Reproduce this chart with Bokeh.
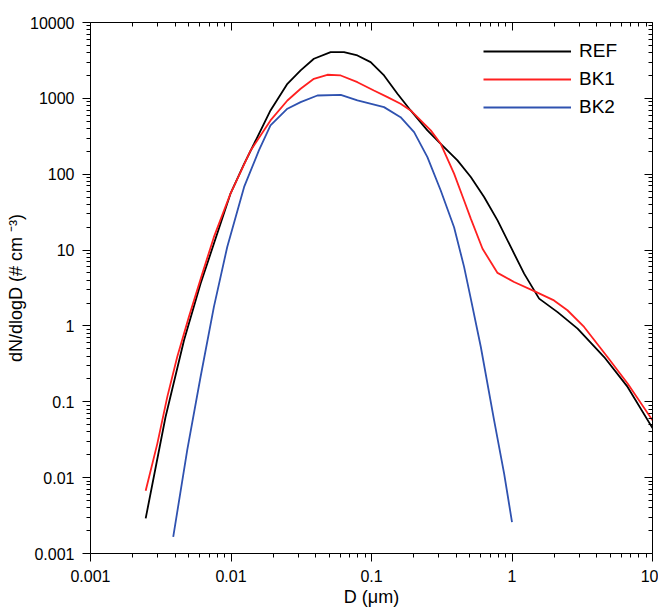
from bokeh.plotting import figure
from bokeh.models import LogAxis, FixedTicker, Legend, LegendItem, Range1d, CustomJSTickFormatter
from bokeh.embed import file_html
from bokeh.resources import INLINE

# ---- data ----
ref_d = [0.00247, 0.00342, 0.00463, 0.00607, 0.00755, 0.0099, 0.0124, 0.0146, 0.0191,
         0.0252, 0.0313, 0.0389, 0.0512, 0.0637, 0.0794, 0.0986, 0.1228, 0.153, 0.190,
         0.250, 0.311, 0.409, 0.509, 0.633, 0.789, 0.980, 1.22, 1.56, 2.11, 2.93, 4.53,
         6.65, 10.0]
ref_n = [0.0029, 0.063, 0.646, 3.6, 12.1, 55, 137, 252, 693,
         1556, 2333, 3324, 4063, 4063, 3675, 3000, 2003, 1150, 693,
         378, 252, 152, 92, 50, 24.6, 11.0, 4.89, 2.29, 1.52, 0.92, 0.389,
         0.157, 0.045]

bk1_d = [0.00247, 0.00299, 0.00352, 0.00414, 0.00501, 0.00625, 0.00755, 0.0099, 0.0138,
         0.0191, 0.0252, 0.0313, 0.0389, 0.0485, 0.0604, 0.0794, 0.104, 0.130, 0.161,
         0.190, 0.264, 0.311, 0.387, 0.456, 0.509, 0.617, 0.789, 1.035, 1.44, 1.99,
         2.48, 3.26, 4.78, 6.65, 10.0]
bk1_n = [0.0067, 0.0281, 0.116, 0.389, 1.31, 4.89, 14.8, 55, 206,
         512, 938, 1337, 1811, 2046, 2003, 1634, 1271, 1037, 849,
         693, 378, 252, 102, 45, 26, 10.4, 5.0, 3.8, 2.88, 2.17,
         1.61, 0.97, 0.39, 0.174, 0.057]

bk2_d = [0.00388, 0.00488, 0.00607, 0.00755, 0.0094, 0.0124, 0.0158, 0.0191, 0.0252,
         0.0313, 0.0412, 0.0604, 0.0794, 0.1228, 0.161, 0.201, 0.250, 0.311, 0.387,
         0.456, 0.509, 0.600, 0.746, 0.879, 1.0]
bk2_n = [0.00166, 0.023, 0.212, 1.77, 11, 68, 206, 440, 730,
         891, 1091, 1114, 938, 766, 565, 359, 168, 61, 20,
         6.0, 2.29, 0.527, 0.057, 0.0113, 0.0026]

x_ticks = [0.001, 0.01, 0.1, 1, 10]
x_labels = ["0.001", "0.01", "0.1", "1", "10"]
y_ticks = [0.001, 0.01, 0.1, 1, 10, 100, 1000, 10000]
y_labels = ["0.001", "0.01", "0.1", "1", "10", "100", "1000", "10000"]

series_names = ["REF", "BK1", "BK2"]
series_colors = ["#000000", "#ff2020", "#2f52b0"]

FONT = "Liberation Sans"

LABEL_JS = """
let best = 0, bd = Infinity;
for (let i = 0; i < tv.length; i++) {
  const d = Math.abs(Math.log10(tick) - Math.log10(tv[i]));
  if (d < bd) { bd = d; best = i; }
}
return tl[best];
"""

def minor_for(ticks):
    out = []
    for t in ticks[:-1]:
        for k in range(2, 10):
            out.append(t * k)
    return out

p = figure(width=658, height=609, x_axis_type="log", y_axis_type="log",
           x_range=Range1d(0.001, 10), y_range=Range1d(0.001, 10000),
           output_backend="svg", toolbar_location=None,
           min_border_left=90, min_border_right=6, min_border_top=22, min_border_bottom=56)
p.outline_line_color = None
p.xgrid.visible = False
p.ygrid.visible = False
p.background_fill_color = "white"
p.border_fill_color = "white"

xt = FixedTicker(ticks=x_ticks, minor_ticks=minor_for(x_ticks))
yt = FixedTicker(ticks=y_ticks, minor_ticks=minor_for(y_ticks))

xa = p.xaxis[0]
xa.ticker = xt
xa.formatter = CustomJSTickFormatter(args=dict(tv=x_ticks, tl=x_labels), code=LABEL_JS)
xa.axis_label = "D (\u03bcm)"
ya = p.yaxis[0]
ya.ticker = yt
ya.formatter = CustomJSTickFormatter(args=dict(tv=y_ticks, tl=y_labels), code=LABEL_JS)
ya.axis_label = "dN/dlogD (# cm \u207b\u00b3)"

for ax in (xa, ya):
    ax.axis_line_color = "black"
    ax.major_tick_line_color = "black"
    ax.minor_tick_line_color = "black"
    ax.major_tick_out = 8
    ax.major_tick_in = 0
    ax.minor_tick_out = 4
    ax.minor_tick_in = 0
    ax.major_label_text_font = FONT
    ax.major_label_text_font_size = "16px"
    ax.major_label_text_color = "black"
    ax.axis_label_text_font = FONT
    ax.axis_label_text_font_size = "18px"
    ax.axis_label_text_font_style = "normal"
    ax.axis_label_text_color = "black"
xa.major_label_standoff = 8
xa.axis_label_standoff = 2
ya.major_label_standoff = 8
ya.axis_label_standoff = 1

ta = LogAxis(ticker=xt, formatter=CustomJSTickFormatter(code="return '';"))
ra = LogAxis(ticker=yt, formatter=CustomJSTickFormatter(code="return '';"))
for ax in (ta, ra):
    ax.major_tick_in = 8
    ax.major_tick_out = 0
    ax.minor_tick_in = 4
    ax.minor_tick_out = 0
    ax.major_label_standoff = 0
    ax.axis_line_color = "black"
    ax.major_tick_line_color = "black"
    ax.minor_tick_line_color = "black"
p.add_layout(ta, "above")
p.add_layout(ra, "right")

items = []
for name, col, d, n in zip(series_names, series_colors,
                           [ref_d, bk1_d, bk2_d], [ref_n, bk1_n, bk2_n]):
    r = p.line(d, n, line_color=col, line_width=1.8)
    items.append(LegendItem(label=name, renderers=[r]))

legend = Legend(items=items, location="top_right")
legend.glyph_width = 88
legend.glyph_height = 20
legend.label_height = 20
legend.label_width = 55
legend.label_standoff = 8
legend.spacing = 6
legend.padding = 10
legend.margin = 8
legend.border_line_alpha = 0
legend.background_fill_alpha = 0
legend.label_text_font = FONT
legend.label_text_font_size = "19px"
legend.label_text_color = "black"
p.add_layout(legend, "center")

open("out.html", "w").write(file_html(p, INLINE))
